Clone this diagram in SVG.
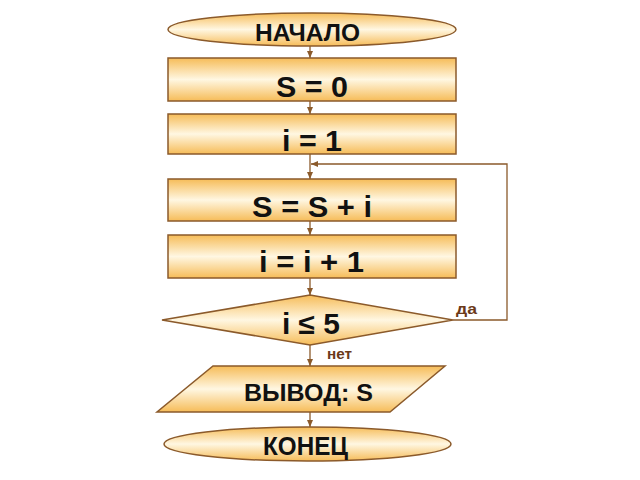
<svg xmlns="http://www.w3.org/2000/svg" width="640" height="480" viewBox="0 0 640 480">
<defs>
<linearGradient id="g" x1="0" y1="0" x2="0" y2="1">
<stop offset="0" stop-color="#f6bc58"/>
<stop offset="0.5" stop-color="#fff7e2"/>
<stop offset="1" stop-color="#f6bc58"/>
</linearGradient>
<marker id="a" markerWidth="8" markerHeight="8" refX="7" refY="4" orient="auto" markerUnits="userSpaceOnUse">
<path d="M0,1 L7,4 L0,7 Z" fill="#8b5a2b"/>
</marker>
<style>
.s{fill:url(#g);stroke:#8b5a2b;stroke-width:1.5}
.t{font-family:"Liberation Sans",Arial,sans-serif;font-weight:bold;fill:#111}
.c{fill:none;stroke:#8b5a2b;stroke-width:1.3}
.l{font-family:"Liberation Sans",Arial,sans-serif;font-weight:bold;fill:#6b3a1a;font-size:15px}
</style>
</defs>
<rect width="640" height="480" fill="#fff"/>
<g id="connectors">
<line class="c" x1="310" y1="46" x2="310" y2="58" marker-end="url(#a)"/>
<line class="c" x1="310" y1="101" x2="310" y2="114" marker-end="url(#a)"/>
<line class="c" x1="310" y1="154" x2="310" y2="179" marker-end="url(#a)"/>
<line class="c" x1="310" y1="221" x2="310" y2="235" marker-end="url(#a)"/>
<line class="c" x1="310" y1="278" x2="310" y2="295" marker-end="url(#a)"/>
<line class="c" x1="310" y1="345" x2="310" y2="366" marker-end="url(#a)"/>
<line class="c" x1="310" y1="412" x2="310" y2="427" marker-end="url(#a)"/>
<polyline class="c" points="453,320 507,320 507,164 311,164" marker-end="url(#a)"/>
<text class="l" x="456" y="314" textLength="21" lengthAdjust="spacingAndGlyphs">да</text>
<text class="l" x="327" y="359" textLength="25" lengthAdjust="spacingAndGlyphs">нет</text>
</g>
<g id="start">
<rect class="s" x="168" y="13" width="288" height="33" rx="144" ry="16.5"/>
<text class="t" x="255" y="41" font-size="24" textLength="105" lengthAdjust="spacingAndGlyphs">НАЧАЛО</text>
</g>
<g id="s0">
<rect class="s" x="168" y="58" width="288" height="43"/>
<text class="t" x="276" y="97" font-size="29" textLength="72" lengthAdjust="spacingAndGlyphs">S = 0</text>
</g>
<g id="i1">
<rect class="s" x="168" y="114" width="288" height="40"/>
<text class="t" x="282" y="151" font-size="29" textLength="60" lengthAdjust="spacingAndGlyphs">i = 1</text>
</g>
<g id="ssi">
<rect class="s" x="168" y="179" width="288" height="42"/>
<text class="t" x="252" y="217" font-size="29" textLength="120" lengthAdjust="spacingAndGlyphs">S = S + i</text>
</g>
<g id="ii1">
<rect class="s" x="168" y="235" width="288" height="43"/>
<text class="t" x="259" y="272" font-size="29" textLength="105" lengthAdjust="spacingAndGlyphs">i = i + 1</text>
</g>
<g id="cond">
<polygon class="s" points="162,320 310,295 453,320 310,345"/>
<text class="t" x="282" y="334" font-size="29" textLength="58" lengthAdjust="spacingAndGlyphs">i ≤ 5</text>
</g>
<g id="out">
<polygon class="s" points="213,366 445,366 390,412 157,412"/>
<text class="t" x="244" y="401" font-size="23" textLength="129" lengthAdjust="spacingAndGlyphs">ВЫВОД: S</text>
</g>
<g id="end">
<rect class="s" x="164" y="427" width="287" height="34" rx="143" ry="17"/>
<text class="t" x="263" y="455" font-size="25" textLength="85" lengthAdjust="spacingAndGlyphs">КОНЕЦ</text>
</g>
</svg>
